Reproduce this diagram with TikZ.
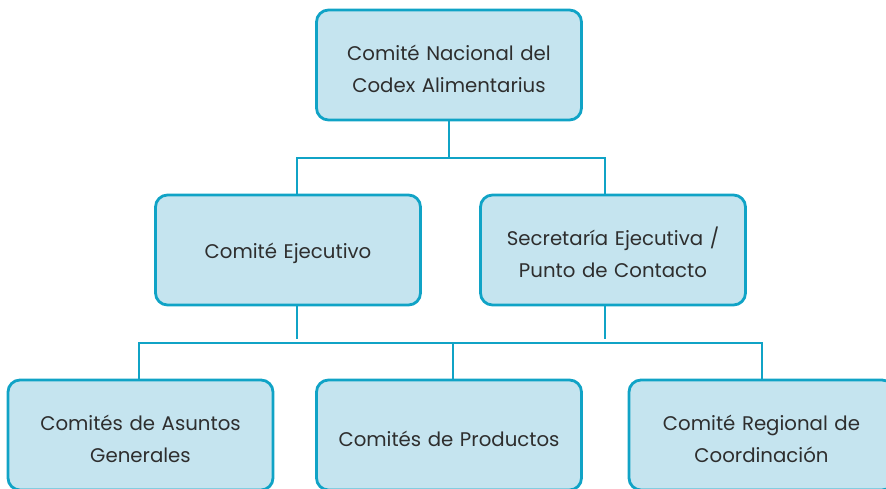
\documentclass[tikz,border=0pt]{standalone}
\usepackage{fontspec}
\setmainfont{Poppins}
\usepackage{xcolor}
\usetikzlibrary{positioning}
\definecolor{boxfill}{HTML}{C5E4EF}
\definecolor{boxline}{HTML}{10A3C6}
\definecolor{boxtext}{HTML}{2E2E2E}

\begin{document}
\begin{tikzpicture}[x=0.75pt,y=-0.75pt,
    box/.style={draw=boxline, fill=boxfill, line width=2.1pt, rounded corners=9pt,
        minimum width=198.75pt, minimum height=82.5pt,
        text width=185pt, align=center, inner sep=0pt, text height=17pt,
        text=boxtext, font=\fontsize{14.8pt}{24pt}\selectfont},
    link/.style={draw=boxline, line width=2.1pt}]
        \newcommand{\figbusay}{158}
        \newcommand{\figbusby}{343}
        \useasboundingbox (0,0) rectangle (886,489);
        \clip (0,0) rectangle (886,489);
        % boxes
        \node[box] (top) at (449,65) {Comité Nacional del\\Codex Alimentarius};
        \node[box] (ejec) at (288,250) {Comité Ejecutivo};
        \node[box] (secr) at (613,250) {Secretaría Ejecutiva /\\Punto de Contacto};
        \node[box] (gen) at (140.5,435) {Comités de Asuntos\\Generales};
        \node[box] (prod) at (449,435) {Comités de Productos};
        \node[box] (regi) at (761.5,435) {Comité Regional de\\Coordinación};
        % junctions
        \coordinate (busaL) at (297,\figbusay);
        \coordinate (busaR) at (605,\figbusay);
        \coordinate (stubL) at (297,\figbusby-4);
        \coordinate (stubR) at (605,\figbusby-4);
        \coordinate (busbL) at (139,\figbusby);
        \coordinate (busbM) at (453,\figbusby);
        \coordinate (busbR) at (762,\figbusby);
        % connectors
        \draw[link] (top.south) -- (top.south |- busaL);
        \draw[link] (busaL |- ejec.north) |- (busaR) -- (busaR |- secr.north);
        \draw[link] (stubL |- ejec.south) -- (stubL);
        \draw[link] (stubR |- secr.south) -- (stubR);
        \draw[link] (busbL |- gen.north) |- (busbR) -- (busbR |- regi.north);
        \draw[link] (busbM) -- (busbM |- prod.north);
    \end{tikzpicture}
\end{document}
